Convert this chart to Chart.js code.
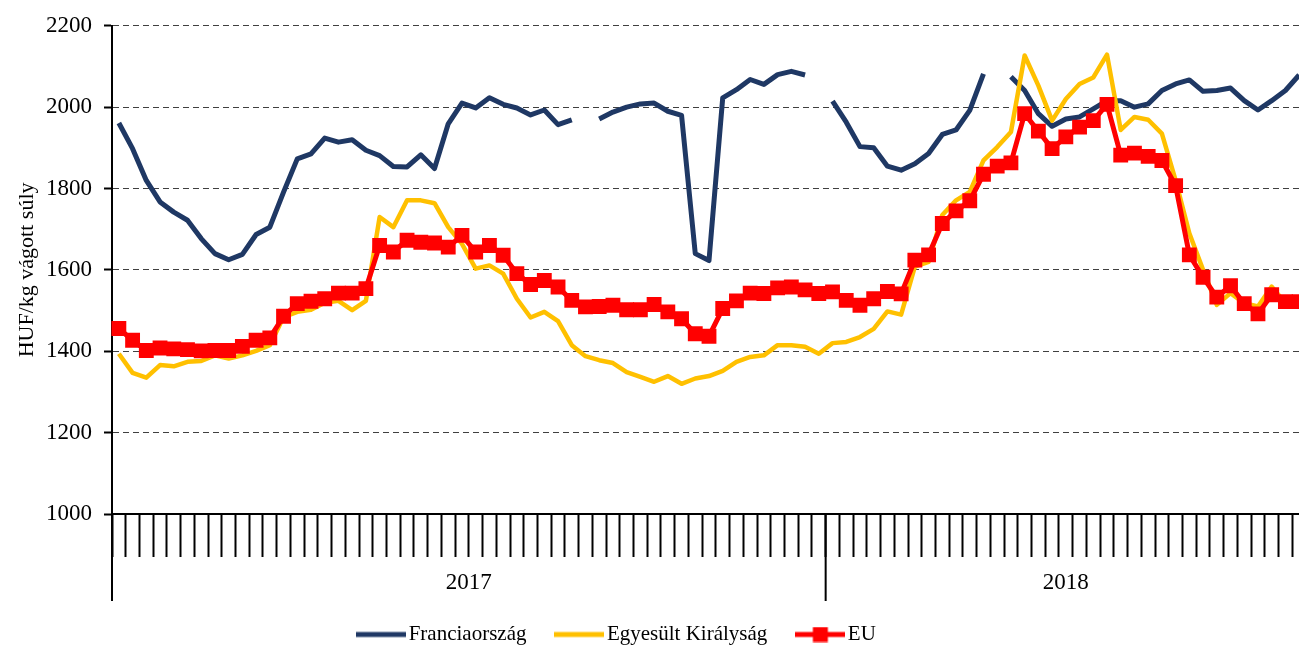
<!DOCTYPE html>
<html><head><meta charset="utf-8">
<script src="https://cdn.jsdelivr.net/npm/chart.js@4.4.1/dist/chart.umd.min.js"></script>
<style>html,body{margin:0;padding:0;overflow:hidden;background:#fff;width:1299px;height:648px}canvas{display:block}</style>
</head><body><canvas id="c" width="1306" height="648"></canvas>
<script>
const weeks2017 = [1,2,3,4,5,6,7,8,9,10,11,12,13,14,15,16,17,18,19,20,21,22,23,24,25,26,27,28,29,30,31,32,33,34,35,36,37,38,39,40,41,42,43,44,45,46,47,48,49,50,51,52];
const weeks2018 = [1,2,3,4,5,6,7,8,9,10,11,12,13,14,15,16,17,18,19,20,21,22,23,24,25,26,27,28,29,30,31,32,33,34,35];
const yearLabels = ['2017', '2018'];
const categories = weeks2017.map(w => '2017/' + w).concat(weeks2018.map(w => '2018/' + w));

const france = [1961,1898,1820,1767,1742,1722,1677,1640,1625,1638,1687,1705,1791,1873,1885,1924,1914,1920,1894,1881,1854,1853,1883,1849,1959,2010,1998,2023,2007,1998,1981,1993,1957,1969,null,1971,1988,2000,2008,2010,1990,1980,1640,1623,2023,2043,2068,2056,2080,2088,2079,null,2015,1963,1903,1900,1855,1845,1861,1886,1933,1944,1992,2082,null,2075,2041,1984,1953,1971,1976,1996,2016,2016,2000,2008,2041,2057,2067,2039,2041,2047,2016,1993,2016,2041,2079];
const uk = [1394,1347,1335,1366,1363,1374,1376,1390,1382,1390,1401,1415,1484,1497,1502,1519,1524,1501,1524,1730,1705,1771,1771,1764,1705,1664,1603,1611,1591,1529,1483,1497,1474,1415,1388,1378,1371,1349,1337,1325,1339,1320,1333,1339,1352,1374,1386,1390,1415,1415,1411,1394,1420,1423,1435,1455,1498,1490,1608,1620,1735,1771,1792,1869,1902,1939,2127,2053,1967,2020,2057,2073,2129,1944,1976,1969,1935,1820,1690,1600,1514,1543,1518,1510,1559,1518,1518];
const eu = [1456,1427,1402,1408,1406,1404,1401,1402,1402,1412,1427,1433,1486,1517,1523,1529,1543,1543,1554,1660,1644,1673,1668,1666,1656,1685,1644,1660,1636,1591,1564,1574,1558,1525,1509,1510,1513,1502,1502,1515,1497,1480,1443,1437,1505,1524,1543,1542,1556,1558,1551,1542,1546,1525,1513,1529,1547,1541,1624,1637,1714,1745,1770,1835,1855,1863,1984,1941,1898,1927,1951,1967,2007,1882,1887,1879,1869,1807,1637,1582,1533,1561,1517,1492,1539,1522,1522];
const seriesNames = ['Franciaország', 'Egyesült Királyság', 'EU'];
const yMin = 1000, yMax = 2200, yStep = 200;

const C_FR = '#1F3864', C_UK = '#FFC000', C_EU = '#FF0000';
const FONT = 'Liberation Serif';

function makeIcon(color, withMarker) {
  const c = document.createElement('canvas');
  c.width = 50; c.height = 16;
  const g = c.getContext('2d');
  g.fillStyle = color;
  g.fillRect(0, 5.5, 50, 5);
  if (withMarker) g.fillRect(17.5, 0.5, 15, 15);
  return c;
}
const icons = [makeIcon(C_FR, false), makeIcon(C_UK, false), makeIcon(C_EU, true)];

const yearPlugin = {
  id: 'years',
  afterLayout(chart) {
    chart.legend.right -= 66;
  },
  afterDraw(chart) {
    const x = chart.scales.x, ctx = chart.ctx;
    const half = (x.getPixelForValue(1) - x.getPixelForValue(0)) / 2;
    const start = x.getPixelForValue(0) - half;
    const sep = x.getPixelForValue(weeks2017.length - 1) + half;
    const end = x.getPixelForValue(categories.length - 1) + half;
    const top = x.top;
    ctx.save();
    ctx.strokeStyle = '#000';
    ctx.lineWidth = 2;
    ctx.beginPath();
    ctx.moveTo(start, top); ctx.lineTo(start, top + 87);
    ctx.moveTo(sep, top); ctx.lineTo(sep, top + 87);
    ctx.stroke();
    ctx.fillStyle = '#000';
    ctx.font = '23px "' + FONT + '"';
    ctx.textAlign = 'center';
    ctx.textBaseline = 'middle';
    ctx.fillText(yearLabels[0], (start + sep) / 2, top + 69);
    ctx.fillText(yearLabels[1], (sep + end) / 2, top + 69);
    ctx.restore();
  }
};

new Chart(document.getElementById('c'), {
  type: 'line',
  data: {
    labels: categories,
    datasets: [
      { label: seriesNames[0], data: france, borderColor: C_FR, backgroundColor: C_FR, borderWidth: 5, pointRadius: 0, spanGaps: false, order: 2 },
      { label: seriesNames[1], data: uk, borderColor: C_UK, backgroundColor: C_UK, borderWidth: 4.5, pointRadius: 0, order: 1 },
      { label: seriesNames[2], data: eu, borderColor: C_EU, backgroundColor: C_EU, borderWidth: 5, pointStyle: 'rect', pointRadius: 10.5, pointBackgroundColor: C_EU, pointBorderWidth: 0, order: 0 }
    ]
  },
  options: {
    responsive: false,
    animation: false,
    events: [],
    elements: { line: { tension: 0, borderJoinStyle: 'round', borderCapStyle: 'butt' } },
    layout: { autoPadding: false, padding: { top: 25, left: 0, right: 0, bottom: -7 } },
    plugins: {
      tooltip: { enabled: false },
      legend: {
        position: 'bottom',
        labels: {
          usePointStyle: true, pointStyleWidth: 34, padding: 36, color: '#000',
          font: { family: FONT, size: 21 },
          sort: (a, b) => a.datasetIndex - b.datasetIndex,
          generateLabels(chart) {
            const items = Chart.defaults.plugins.legend.labels.generateLabels(chart);
            items.forEach(it => { it.pointStyle = icons[it.datasetIndex]; it.rotation = 0; });
            return items;
          }
        }
      }
    },
    scales: {
      x: {
        type: 'category', offset: true,
        grid: { display: true, drawOnChartArea: false, drawTicks: true, tickLength: 43, tickColor: '#000', tickWidth: 2, offset: true },
        border: { display: true, color: '#000', width: 2 },
        ticks: { display: false, autoSkip: false, maxRotation: 0 },
        afterFit(s) { s.height = 74; }
      },
      y: {
        min: yMin, max: yMax,
        ticks: { stepSize: yStep, padding: 12, color: '#000', font: { family: FONT, size: 23 }, callback: v => String(v) },
        grid: { color: '#404040', lineWidth: 1, tickLength: 8, tickColor: '#000', tickWidth: 2, tickBorderDash: [] },
        border: { display: true, color: '#000', width: 2, dash: [6, 4] },
        title: { display: true, text: 'HUF/kg vágott súly', color: '#000', font: { family: FONT, size: 22 }, padding: { top: 14, bottom: 0 } },
        afterFit(s) { s.width = 112; }
      }
    }
  },
  plugins: [yearPlugin]
});
</script>
</body></html>
